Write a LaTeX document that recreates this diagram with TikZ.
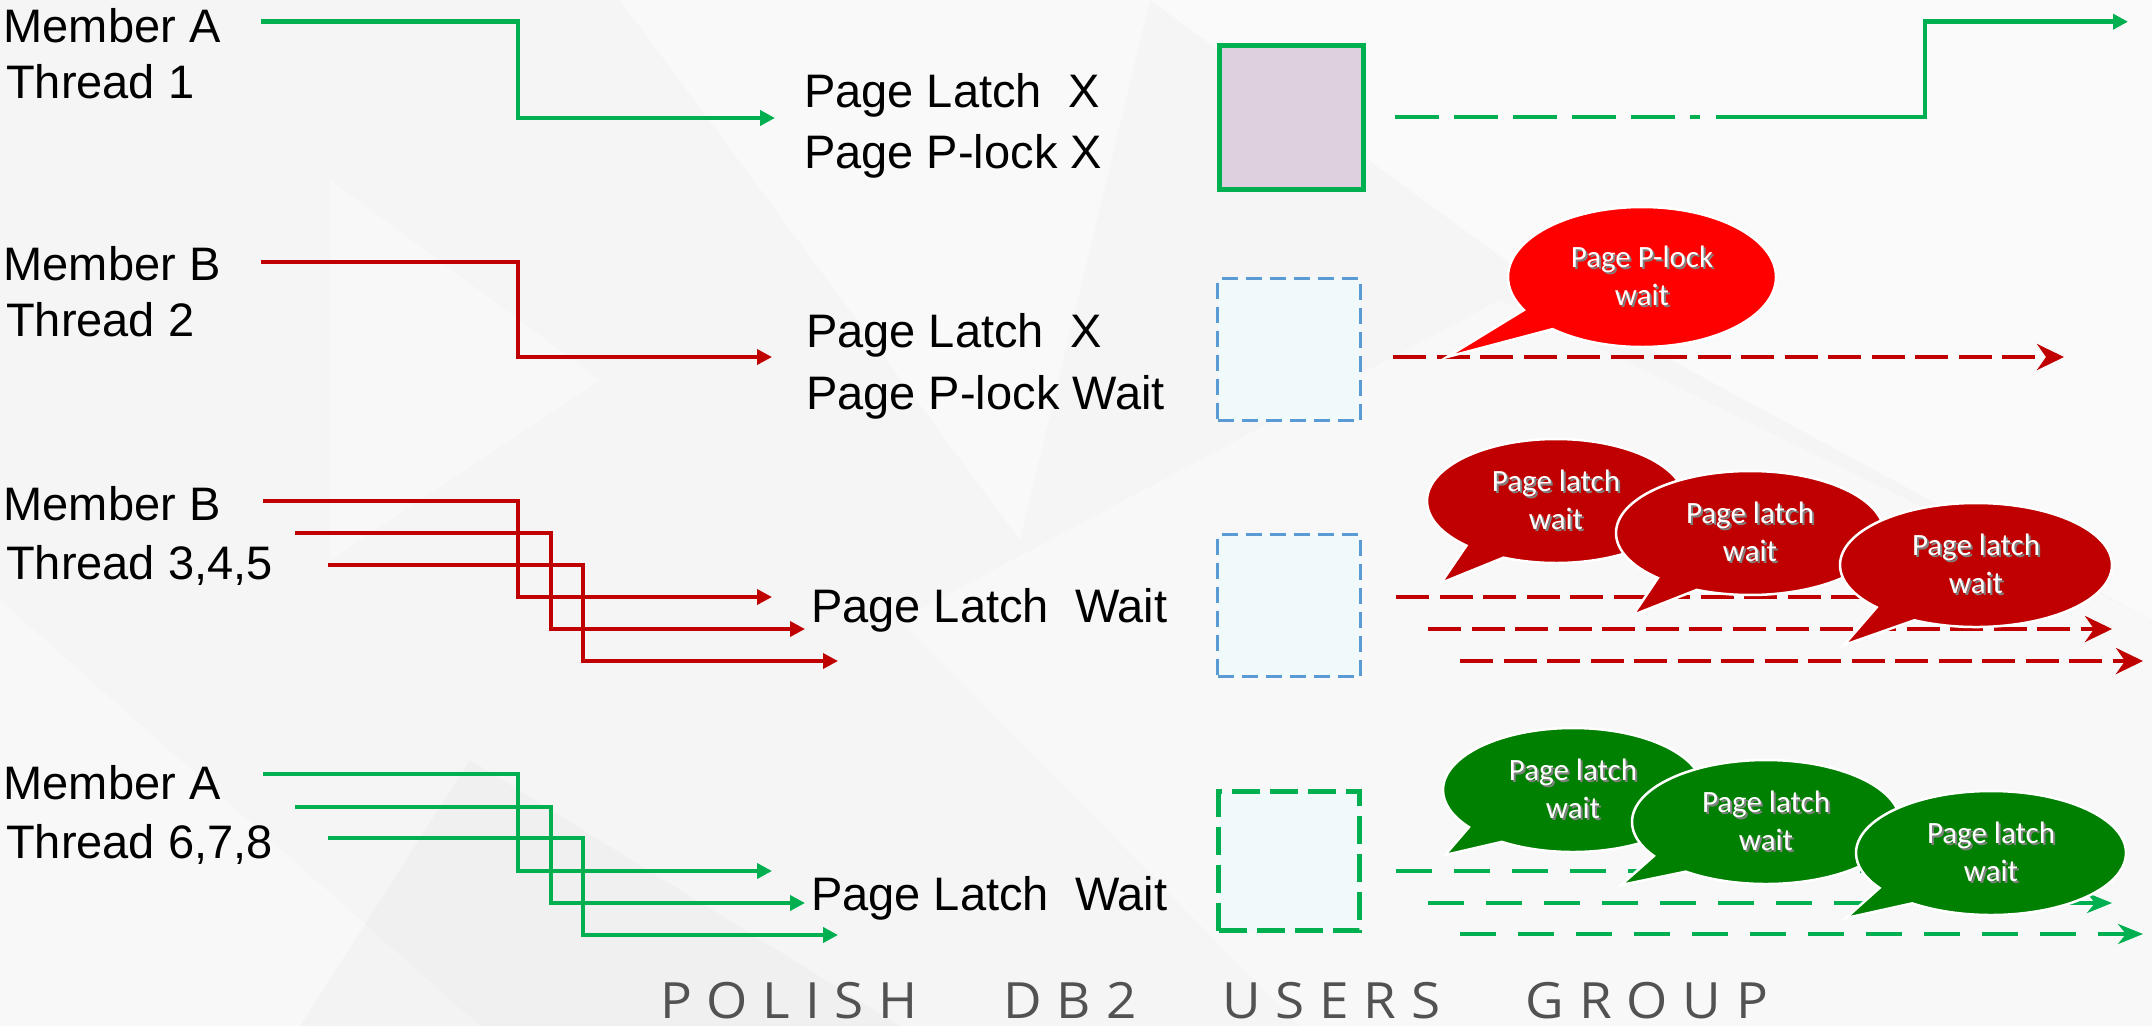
\documentclass[tikz,border=0pt]{standalone}
\usepackage{fontspec}
\setmainfont{Liberation Sans}
\newfontfamily\calloutfont{Carlito}
\newfontfamily\footfont[FakeStretch=1.06]{Open Sans}
\usetikzlibrary{arrows.meta,shapes.callouts}
\definecolor{pgreen}{HTML}{00B050}
\definecolor{pred}{HTML}{C00000}
\definecolor{bred}{HTML}{FF0000}
\definecolor{dgreen}{HTML}{008000}
\definecolor{mauve}{RGB}{223,208,223}
\definecolor{ice}{RGB}{240,250,251}
\definecolor{dashblue}{HTML}{5B9BD5}
\definecolor{bg}{RGB}{245,245,245}
% white text with a soft dark drop shadow
\newcommand\shadowtext[1]{\leavevmode\rlap{\kern2pt\raisebox{-2pt}{\textcolor{black!50}{#1}}}#1}
% letter gap and word gap of the spaced-out footer
\newcommand\ftgap{\hfil}
\newcommand\ftword{\hfil\hskip56pt\hfil}

\begin{document}
\begin{tikzpicture}[x=1pt,y=-1pt,
  lbl/.style={anchor=base west,inner sep=0pt,font=\fontsize{47}{56}\selectfont},
  gline/.style={draw=pgreen,line width=4.5pt,-{Triangle[length=15pt,width=15pt]}},
  rline/.style={draw=pred,line width=3.5pt,-{Triangle[length=15pt,width=15pt]}},
  rdash/.style={draw=pred,line width=4pt,dash pattern=on 33pt off 10.5pt,
    -{Stealth[length=27pt,width=26pt,inset=9pt]}},
  gdash/.style={draw=pgreen,line width=4.5pt,dash pattern=on 36pt off 22pt,
    -{Stealth[length=25pt,width=20pt,inset=8pt]}},
  pagebox/.style={rectangle,inner sep=0pt},
  bubble/.style={ellipse callout,callout pointer arc=20,draw=white,line width=2.5pt,
    text=white,inner sep=0pt,align=center,font=\calloutfont\fontsize{31}{38}\selectfont},
]
% canvas with faint facets
\fill[bg] (0,0) rectangle (2152,1026);
\useasboundingbox (0,0) rectangle (2152,1026);
\fill[white,opacity=0.5] (1150,0) -- (2152,0) -- (2152,620) -- (1560,300) -- cycle;
\fill[white,opacity=0.4] (620,0) -- (1150,0) -- (1020,540) -- cycle;
\fill[white,opacity=0.35] (900,620) -- (1500,300) -- (2152,620) -- (2152,1026) -- (1300,1026) -- cycle;
\fill[white,opacity=0.3] (0,600) -- (480,1026) -- (0,1026) -- cycle;
\fill[black,opacity=0.02] (300,1026) -- (470,760) -- (900,1026) -- cycle;
\fill[white,opacity=0.35] (330,180) -- (600,380) -- (330,560) -- cycle;

% ---------- row 1 : member A, thread 1 ----------
\node[lbl] (mA1) at (3.5,42) {Member A};
\node[lbl] (tA1) at (6,98) {Thread 1};
\node[lbl] (p1a) at (804,107) {Page Latch\ \ X};
\node[lbl] (p1b) at (804,168) {Page P-lock X};
\node[pagebox,fill=mauve,draw=pgreen,line width=5pt,minimum width=144pt,minimum height=144pt]
  (box1) at (1291.5,117.5) {};
\coordinate (s1) at (261,21.7);
\coordinate (k1) at (518,118);
\coordinate (e1) at (775,118);
\draw[gline] (s1) -| (k1) -- (e1);
\coordinate (r1a) at (1395,117);
\coordinate (r1b) at (1700,117);
\coordinate (r1c) at (1716,117);
\coordinate (r1k) at (1925,21.7);
\coordinate (r1e) at (2128,21.7);
\draw[draw=pgreen,line width=4.5pt,dash pattern=on 44pt off 15pt] (r1a) -- (r1b);
\draw[gline] (r1c) -| (r1k) -- (r1e);

% ---------- row 2 : member B, thread 2 ----------
\node[lbl] (mB2) at (3.5,280) {Member B};
\node[lbl] (tB2) at (6,336) {Thread 2};
\node[lbl] (p2a) at (806,347) {Page Latch\ \ X};
\node[lbl] (p2b) at (806,409) {Page P-lock Wait};
\node[pagebox,fill=ice,draw=dashblue,line width=3pt,dash pattern=on 16pt off 8pt,
  minimum width=143pt,minimum height=142pt] (box2) at (1289,349.5) {};
\coordinate (s2) at (261,262);
\coordinate (k2) at (518,357);
\coordinate (e2) at (772,357);
\draw[rline] (s2) -| (k2) -- (e2);
\coordinate (r2a) at (1393,357);
\coordinate (r2e) at (2064,357);
\draw[rdash] (r2a) -- (r2e);
\node[bubble,fill=bred,minimum width=268pt,minimum height=140pt,
  callout absolute pointer={(1447,357)}] (b2) at (1642,277)
  {\shadowtext{Page P-lock}\\\shadowtext{wait}};

% ---------- row 3 : member B, threads 3,4,5 ----------
\node[lbl] (mB3) at (3.5,520) {Member B};
\node[lbl] (tB3) at (6,579) {Thread 3,4,5};
\node[lbl] (p3) at (811,622) {Page Latch\ \ Wait};
\node[pagebox,fill=ice,draw=dashblue,line width=3pt,dash pattern=on 16pt off 8pt,
  minimum width=143pt,minimum height=142pt] (box3) at (1289,605.5) {};
\coordinate (s3a) at (263,501);
\coordinate (k3a) at (518,597);
\coordinate (e3a) at (772,597);
\coordinate (s3b) at (295,533);
\coordinate (k3b) at (551,629);
\coordinate (e3b) at (805,629);
\coordinate (s3c) at (328,565);
\coordinate (k3c) at (583,661);
\coordinate (e3c) at (838,661);
\draw[rline] (s3a) -| (k3a) -- (e3a);
\draw[rline] (s3b) -| (k3b) -- (e3b);
\draw[rline] (s3c) -| (k3c) -- (e3c);
\coordinate (r3a) at (1396,597);
\coordinate (r3ae) at (2064,597);
\coordinate (r3b) at (1428,629);
\coordinate (r3be) at (2112,629);
\coordinate (r3c) at (1460,661);
\coordinate (r3ce) at (2143,661);
\draw[rdash] (r3a) -- (r3ae);
\draw[rdash] (r3b) -- (r3be);
\draw[rdash] (r3c) -- (r3ce);
\node[bubble,fill=pred,minimum width=258pt,minimum height=124pt,
  callout absolute pointer={(1441,583)}] (b3a) at (1556,501)
  {\shadowtext{Page latch}\\\shadowtext{wait}};
\node[bubble,fill=pred,minimum width=268pt,minimum height=124pt,
  callout absolute pointer={(1633,615)}] (b3b) at (1750,533)
  {\shadowtext{Page latch}\\\shadowtext{wait}};
\node[bubble,fill=pred,minimum width=272pt,minimum height=124pt,
  callout absolute pointer={(1844,645)}] (b3c) at (1976,565)
  {\shadowtext{Page latch}\\\shadowtext{wait}};

% ---------- row 4 : member A, threads 6,7,8 ----------
\node[lbl] (mA4) at (3.5,799) {Member A};
\node[lbl] (tA4) at (6,858) {Thread 6,7,8};
\node[lbl] (p4) at (811,910) {Page Latch\ \ Wait};
\node[pagebox,fill=ice,draw=pgreen,line width=5pt,dash pattern=on 28pt off 10pt,
  minimum width=141pt,minimum height=139pt] (box4) at (1289,861) {};
\coordinate (s4a) at (263,774);
\coordinate (k4a) at (518,871);
\coordinate (e4a) at (772,871);
\coordinate (s4b) at (295,807);
\coordinate (k4b) at (551,903);
\coordinate (e4b) at (805,903);
\coordinate (s4c) at (328,838);
\coordinate (k4c) at (583,935);
\coordinate (e4c) at (838,935);
\draw[gline] (s4a) -| (k4a) -- (e4a);
\draw[gline] (s4b) -| (k4b) -- (e4b);
\draw[gline] (s4c) -| (k4c) -- (e4c);
\coordinate (r4a) at (1396,871);
\coordinate (r4ae) at (2064,871);
\coordinate (r4b) at (1428,903);
\coordinate (r4be) at (2112,903);
\coordinate (r4c) at (1460,934);
\coordinate (r4ce) at (2143,934);
\draw[gdash] (r4a) -- (r4ae);
\draw[gdash] (r4b) -- (r4be);
\draw[gdash] (r4c) -- (r4ce);
\node[bubble,fill=dgreen,minimum width=260pt,minimum height=124pt,
  callout absolute pointer={(1445,855)}] (b4a) at (1573,790)
  {\shadowtext{Page latch}\\\shadowtext{wait}};
\node[bubble,fill=dgreen,minimum width=268pt,minimum height=124pt,
  callout absolute pointer={(1621,885)}] (b4b) at (1766,822)
  {\shadowtext{Page latch}\\\shadowtext{wait}};
\node[bubble,fill=dgreen,minimum width=270pt,minimum height=124pt,
  callout absolute pointer={(1846,918)}] (b4c) at (1991,853)
  {\shadowtext{Page latch}\\\shadowtext{wait}};

% ---------- footer ----------
\node[anchor=base west,inner sep=0pt,text=black!68,font=\footfont\fontsize{50}{56}\selectfont]
  (footer) at (660,1018)
  {\hbox to 1108pt{P\ftgap O\ftgap L\ftgap I\ftgap S\ftgap H\ftword D\ftgap B\ftgap 2\ftword
   U\ftgap S\ftgap E\ftgap R\ftgap S\ftword G\ftgap R\ftgap O\ftgap U\ftgap P}};
\end{tikzpicture}
\end{document}
